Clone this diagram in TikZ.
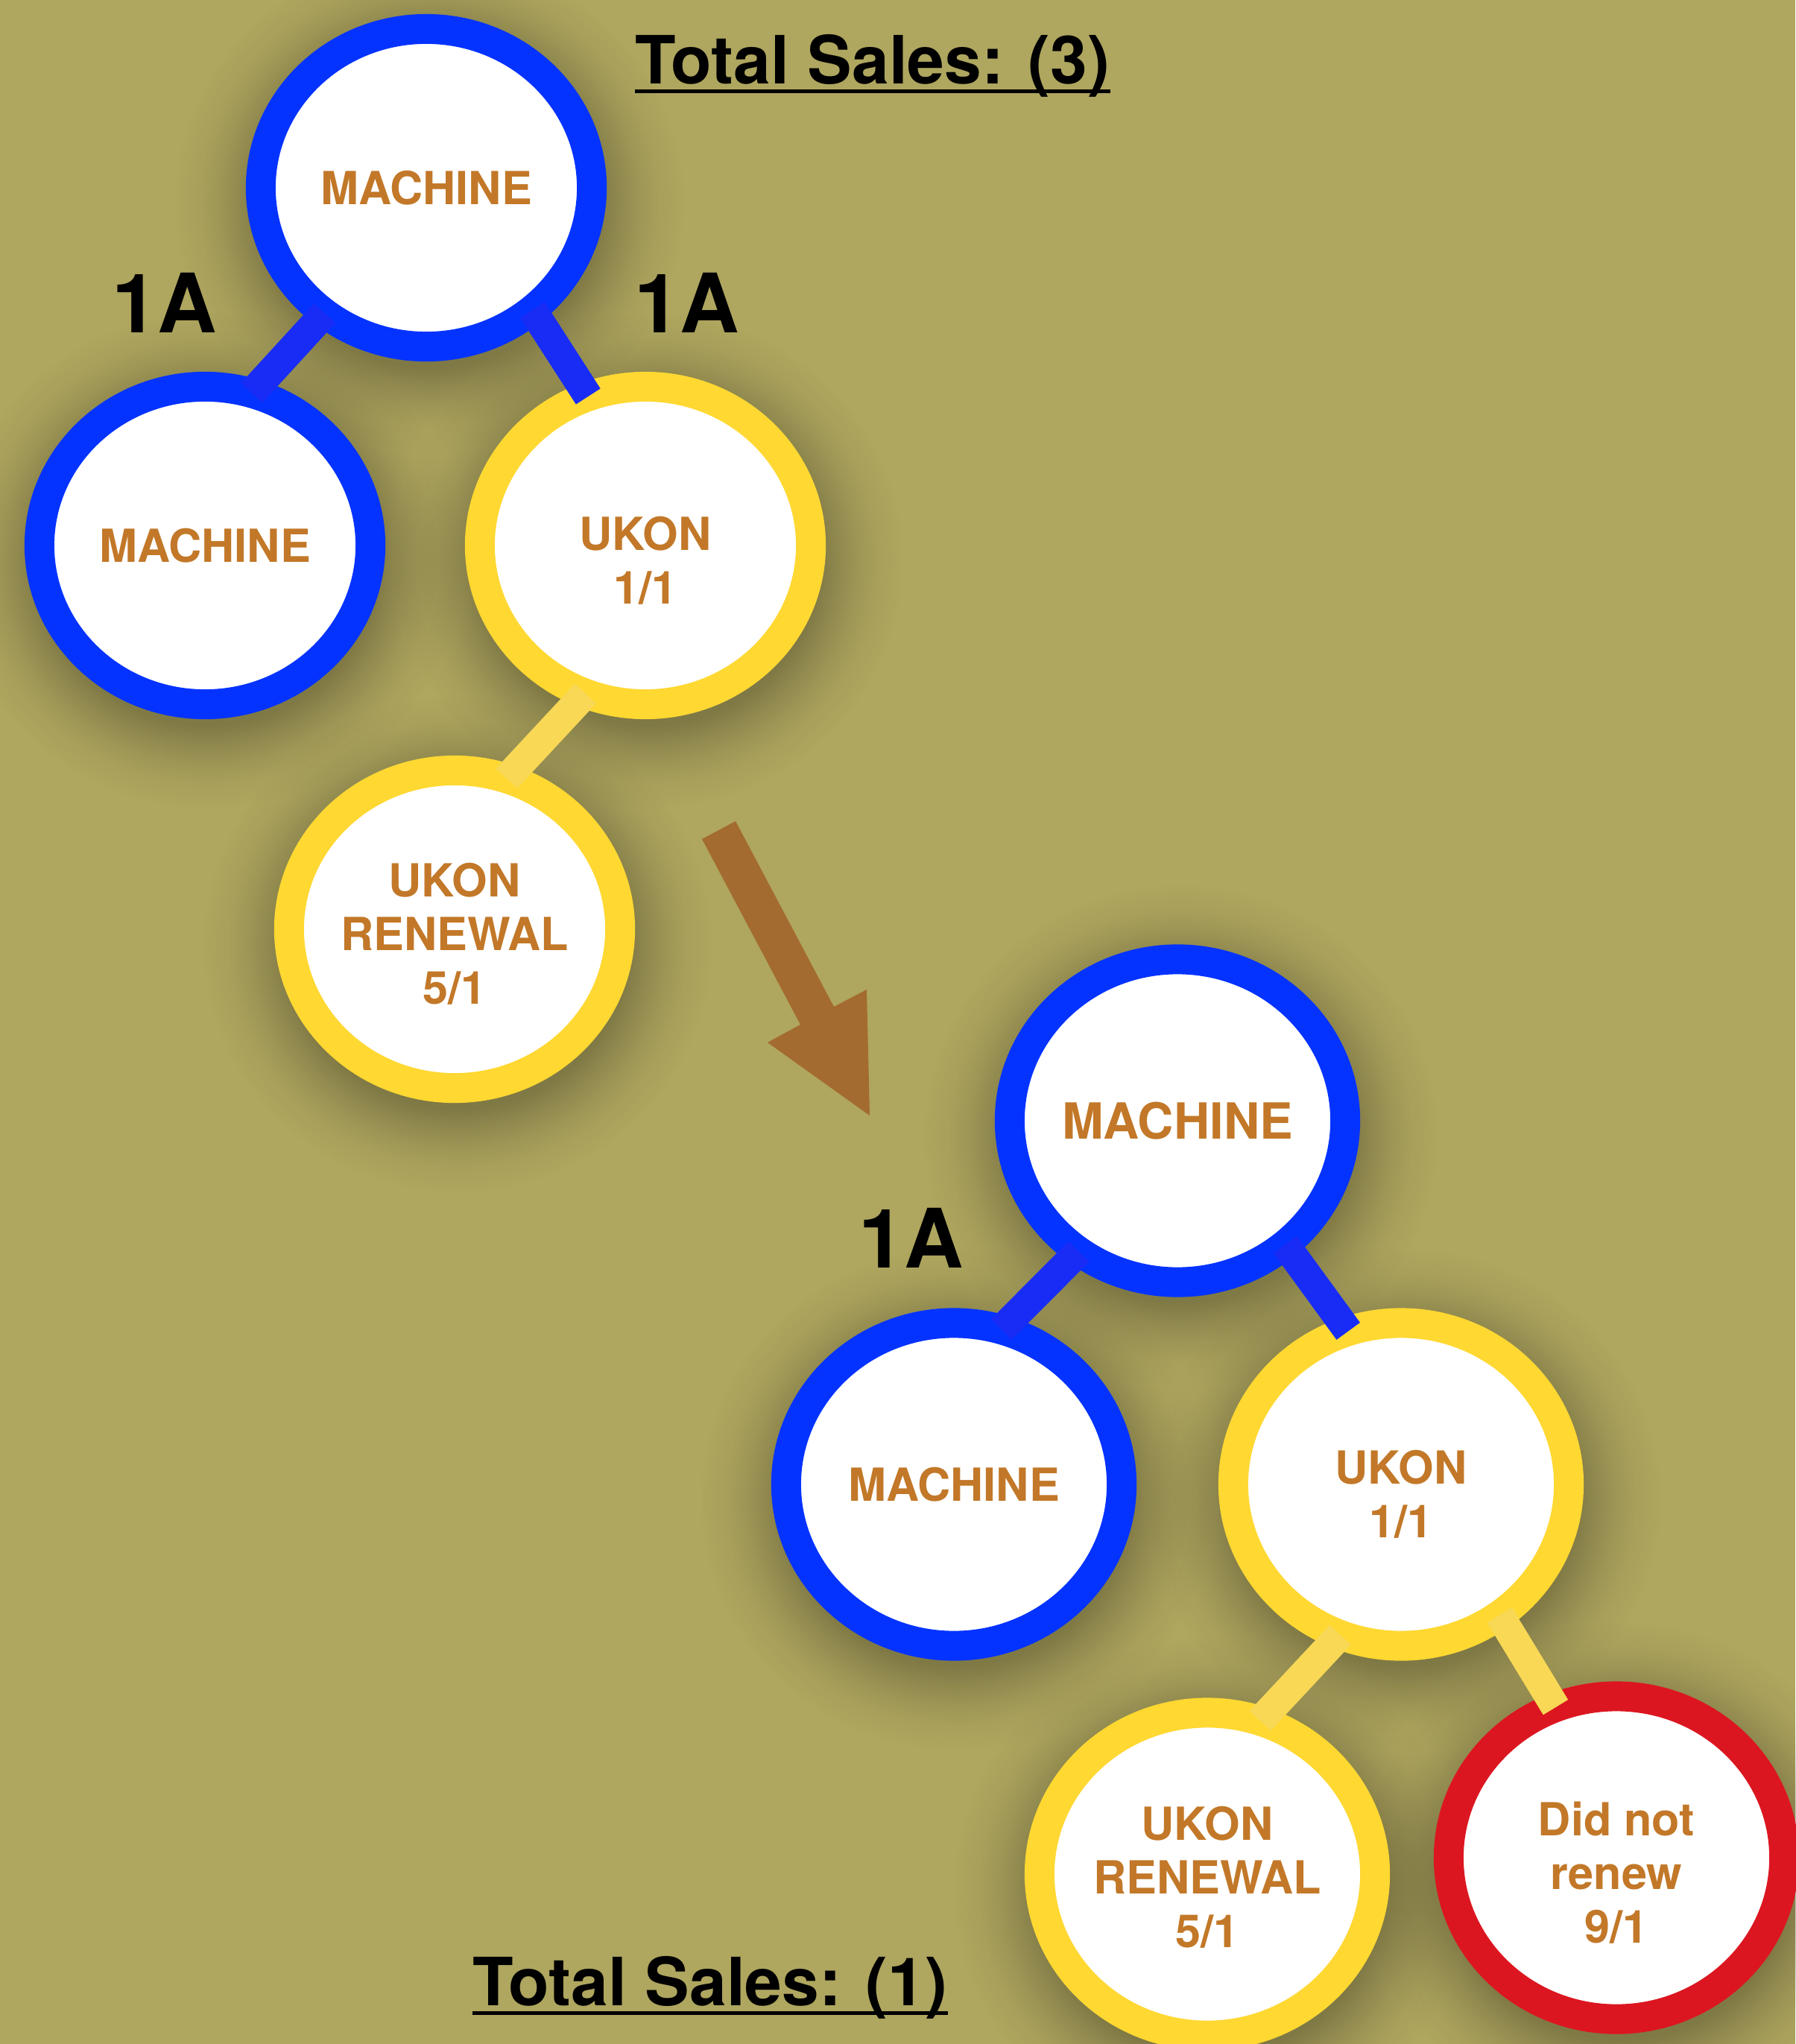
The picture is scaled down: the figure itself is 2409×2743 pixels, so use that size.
\documentclass[tikz,border=0pt]{standalone}
\usepackage{fontspec}
\setmainfont{TeX Gyre Heros}
\usepackage{xcolor}
\usetikzlibrary{shapes.geometric,fadings}

\definecolor{olivebg}{HTML}{AFA65F}
\definecolor{ringblue}{HTML}{0433FF}
\definecolor{ringyellow}{HTML}{FFD832}
\definecolor{ringred}{HTML}{DC1620}
\definecolor{linkblue}{HTML}{182CF5}
\definecolor{linkyellow}{HTML}{F8D855}
\definecolor{labelbrown}{HTML}{C27828}
\definecolor{arrowbrown}{HTML}{A36B2F}

% soft edge for the shadows
\pgfdeclareradialshading{haloshade}{\pgfpointorigin}{gray(0bp)=(1); gray(16.5bp)=(1); gray(18.5bp)=(0.65);
  gray(20.5bp)=(0.35); gray(22.5bp)=(0.13); gray(25bp)=(0); gray(50bp)=(0)}
\pgfdeclarefading{halo}{\pgfuseshading{haloshade}}

% pushes the lines of a bubble a little down
\newcommand{\textdrop}[1]{\rule{0pt}{#1}}

\begin{document}
\begin{tikzpicture}[x=0.01cm, y=-0.01cm,
    bubble/.style={ellipse, draw=#1, line width=0.4cm, fill=white,
      minimum width=4.44cm, minimum height=4.26cm, inner sep=0pt, outer sep=0pt,
      align=center, text=labelbrown, font=\bfseries\fontsize{17.4pt}{20.5pt}\selectfont},
    big/.style={minimum width=4.5cm, minimum height=4.33cm},
    link/.style={draw=#1, line width=0.39cm},
    tag/.style={font=\bfseries\fontsize{31.3pt}{31.3pt}\selectfont, inner sep=0pt},
    total/.style={font=\bfseries\fontsize{25.4pt}{25.4pt}\selectfont, inner sep=0pt, anchor=base west}]

    % Background
    \useasboundingbox (0,0) rectangle (2409,2743);
    \fill[olivebg] (0,0) rectangle (2409,2743);

    % Shadows
    \foreach \cx/\cy/\rx/\ry in {572/252/242/233, 275/732/242/233, 866/732/242/233, 610/1247/242/233,
        1580/1504/245/237, 1280/1992/245/237, 1880/1992/245/237, 1620/2515/245/237, 2169/2493/245/237}
      \fill[black, opacity=0.27, path fading=halo] (\cx+4,\cy+20) ellipse ({\rx+100} and {\ry+100});

    % Before
    \node[bubble=ringblue] (topm) at (572,252) {MACHINE};
    \node[bubble=ringblue] (topml) at (275,732) {MACHINE};
    \node[bubble=ringyellow] (topu) at (866,732) {\textdrop{24.4pt}UKON\\1/1};
    \node[bubble=ringyellow] (topr) at (610,1247) {\textdrop{16.5pt}UKON\\RENEWAL\\5/1};

    % After
    \node[bubble=ringblue, big, font=\bfseries\fontsize{19pt}{22pt}\selectfont] (botm) at (1580,1504) {MACHINE};
    \node[bubble=ringblue, big] (botml) at (1280,1992) {MACHINE};
    \node[bubble=ringyellow, big] (botu) at (1880,1992) {\textdrop{20.5pt}UKON\\1/1};
    \node[bubble=ringyellow, big] (botr) at (1620,2515) {\textdrop{15.3pt}UKON\\RENEWAL\\5/1};
    \node[bubble=ringred, big] (botd) at (2169,2493) {\textdrop{24.4pt}Did not\\renew\\9/1};

    % Links
    \draw[link=linkblue] (topm.231) -- (topml.73);
    \draw[link=linkblue] (topm.311) -- (topu.111);
    \draw[link=linkyellow] (topu.248) -- (topr.71);
    \draw[link=linkblue] (botm.233) -- (botml.73);
    \draw[link=linkblue] (botm.311) -- (botu.109);
    \draw[link=linkyellow] (botu.248) -- (botr.71);
    \draw[link=linkyellow] (botu.307) -- (botd.112);

    % Arrow
    \fill[arrowbrown] (942,1126) -- (987,1102) -- (1119,1351) -- (1163,1328) -- (1167,1497)
      -- (1030,1399) -- (1074,1375) -- cycle;

    % Labels
    \node[tag] (tagl) at (221,406) {1A};
    \node[tag] (tagr) at (922,406) {1A};
    \node[tag] (tagb) at (1223,1661) {1A};

    % Totals
    \node[total] (sales3) at (852,113) {Total Sales: (3)};
    \draw[line width=0.05cm] ([yshift=-0.1cm]sales3.base west) -- ([yshift=-0.1cm]sales3.base east);
    \node[total] (sales1) at (634,2691) {Total Sales: (1)};
    \draw[line width=0.05cm] ([yshift=-0.1cm]sales1.base west) -- ([yshift=-0.1cm]sales1.base east);
  \end{tikzpicture}
\end{document}
